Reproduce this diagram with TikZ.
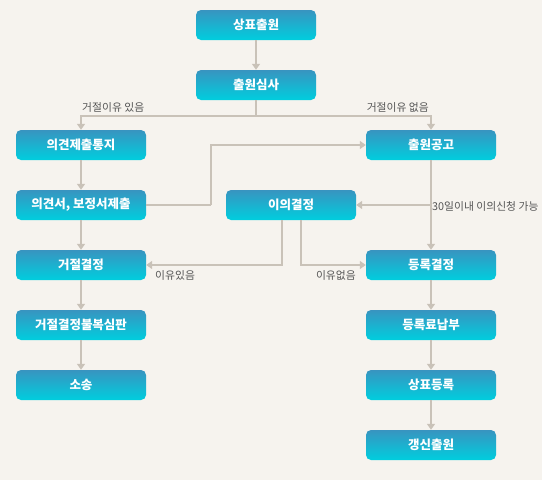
\documentclass[tikz,border=0pt]{standalone}
\usepackage{fontspec}
\setmainfont{Noto Sans CJK KR}
\usetikzlibrary{arrows.meta}
\definecolor{bgc}{RGB}{246,243,238}
\definecolor{linec}{RGB}{201,194,184}
\definecolor{topc}{RGB}{56,148,192}
\definecolor{botc}{RGB}{0,206,222}
\definecolor{labc}{RGB}{85,85,85}
\begin{document}
\begin{tikzpicture}[x=1pt,y=-1pt,
  box/.style={rounded corners=5pt, top color=topc, bottom color=botc, draw=none,
    minimum width=130pt, minimum height=30pt, inner sep=0pt,
    text=white, font=\fontsize{12.5}{13}\selectfont\bfseries},
  sbox/.style={box, minimum width=120pt},
  arr/.style={draw=linec, line width=2pt, -{Triangle[width=8pt,length=6pt]}},
  ln/.style={draw=linec, line width=2pt},
  lab/.style={text=labc, font=\fontsize{10.8}{11}\selectfont, inner sep=0pt}]
\fill[bgc] (0,0) rectangle (542,480);
\useasboundingbox (0,0) rectangle (542,480);
% nodes
\node[sbox] (a) at (256,25) {상표출원};
\node[sbox] (b) at (256,85) {출원심사};
\node[box] (c) at (81,145) {의견제출통지};
\node[box] (d) at (81,205) {의견서, 보정서제출};
\node[box] (g) at (81,265) {거절결정};
\node[box] (g2) at (81,325) {거절결정불복심판};
\node[box] (g3) at (81,385) {소송};
\node[box] (e) at (431,145) {출원공고};
\node[box] (f) at (291,205) {이의결정};
\node[box] (h) at (431,265) {등록결정};
\node[box] (h2) at (431,325) {등록료납부};
\node[box] (h3) at (431,385) {상표등록};
\node[box] (h4) at (431,445) {갱신출원};
% coordinates
\coordinate (split) at (256,116);
\coordinate (j1) at (211,205);
\coordinate (j2) at (431,205);
% connectors
\draw[arr] (a) -- (b);
\draw[arr] (b.south) -- (split) -| (c.north);
\draw[arr] (split) -| (e.north);
\draw[arr] (c) -- (d);
\draw[arr] (d) -- (g);
\draw[arr] (g) -- (g2);
\draw[arr] (g2) -- (g3);
\draw[ln] (d.east) -- (j1);
\draw[arr] (j1) |- (e.west);
\draw[arr] (e) -- (h);
\draw[arr] (j2) -- (f.east);
\draw[arr] ([xshift=-9pt]f.south) |- (g.east);
\draw[arr] ([xshift=10pt]f.south) |- (h.west);
\draw[arr] (h) -- (h2);
\draw[arr] (h2) -- (h3);
\draw[arr] (h3) -- (h4);
% labels
\node[lab, anchor=west] (l1) at (82,107) {거절이유 있음};
\node[lab, anchor=east] (l2) at (429,107) {거절이유 없음};
\node[lab, anchor=west] (l3) at (432,206) {30일이내 이의신청 가능};
\node[lab, anchor=west] (l4) at (155,275) {이유있음};
\node[lab, anchor=east] (l5) at (356,275) {이유없음};
\end{tikzpicture}
\end{document}
